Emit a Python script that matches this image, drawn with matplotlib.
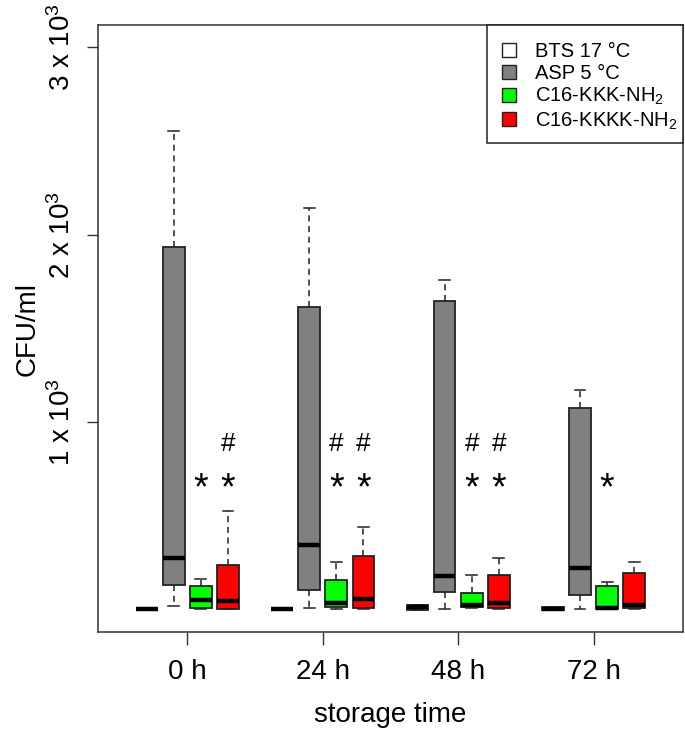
import matplotlib
matplotlib.use("Agg")
import matplotlib.pyplot as plt
from matplotlib.patches import Patch, Rectangle

plt.rcParams['font.family'] = ['Liberation Sans', 'DejaVu Sans']
plt.rcParams['mathtext.fontset'] = 'custom'
plt.rcParams['mathtext.rm'] = 'Liberation Sans'
plt.rcParams['mathtext.it'] = 'Liberation Sans:italic'
plt.rcParams['mathtext.bf'] = 'Liberation Sans:bold'

# ---------------- data ----------------
times = ["0 h", "24 h", "48 h", "72 h"]
series = ["BTS 17 °C", "ASP 5 °C", r"C16-KKK-NH$_2$", r"C16-KKKK-NH$_2$"]
colors = ["#FFFFFF", "#808080", "#00FF00", "#FF0000"]

bts_whislo = [0, 0, 0, 0]
bts_q1 = [1, 1, 0, 0]
bts_med = [2, 2, 12, 5]
bts_q3 = [3, 3, 22, 12]
bts_whishi = [3, 3, 22, 12]

asp_whislo = [20, 6, 3, 3]
asp_q1 = [132, 106, 92, 79]
asp_med = [273, 346, 180, 221]
asp_q3 = [1935, 1616, 1648, 1073]
asp_whishi = [2552, 2141, 1757, 1171]

kkk_whislo = [4, 3, 8, 3]
kkk_q1 = [6, 15, 13, 4]
kkk_med = [52, 35, 24, 6]
kkk_q3 = [124, 159, 88, 125]
kkk_whishi = [163, 255, 186, 147]

kkkk_whislo = [2, 3, 3, 3]
kkkk_q1 = [3, 8, 8, 6]
kkkk_med = [44, 56, 35, 22]
kkkk_q3 = [239, 284, 186, 193]
kkkk_whishi = [524, 438, 275, 252]

# significance marks: (time index, series index)
star_marks = [(0, 2), (0, 3), (1, 2), (1, 3), (2, 2), (2, 3), (3, 2)]
hash_marks = [(0, 3), (1, 2), (1, 3), (2, 2), (2, 3)]
star_y = 640
hash_y = 885

yticks = [1000, 2000, 3000]
ytick_labels = [r"1 x 10$^3$", r"2 x 10$^3$", r"3 x 10$^3$"]

all_series = [
    (bts_whislo, bts_q1, bts_med, bts_q3, bts_whishi),
    (asp_whislo, asp_q1, asp_med, asp_q3, asp_whishi),
    (kkk_whislo, kkk_q1, kkk_med, kkk_q3, kkk_whishi),
    (kkkk_whislo, kkkk_q1, kkkk_med, kkkk_q3, kkkk_whishi),
]

# ---------------- figure ----------------
W, H = 685, 731
fig = plt.figure(figsize=(W / 100, H / 100), dpi=100)
L, R, T, B = 98, 683, 25, 632
ax = fig.add_axes([L / W, 1 - B / H, (R - L) / W, (B - T) / H])

def pos(t, s):
    return t * 5 + s + 1

for s, (lo, q1, med, q3, hi) in enumerate(all_series):
    stats = []
    positions = []
    for t in range(len(times)):
        stats.append(dict(whislo=lo[t], q1=q1[t], med=med[t], q3=q3[t],
                          whishi=hi[t], fliers=[]))
        positions.append(pos(t, s))
    ax.bxp(stats, positions=positions, widths=0.8, capwidths=0.4,
           showfliers=False, patch_artist=True,
           boxprops=dict(facecolor=colors[s], edgecolor="#222222", linewidth=1.3),
           medianprops=dict(color="black", linewidth=3.2, solid_capstyle="butt"),
           whiskerprops=dict(color="#222222", linewidth=1.1, linestyle=(0, (4, 3))),
           capprops=dict(color="#222222", linewidth=1.1),
           manage_ticks=False)

for t, s in star_marks:
    ax.text(pos(t, s), star_y, "*", ha="center", va="center", fontsize=27)
for t, s in hash_marks:
    ax.text(pos(t, s), hash_y, "#", ha="center", va="center", fontsize=19)

ax.set_xlim(-0.8, 20.8)
ax.set_ylim(-120, 3120)

ax.set_xticks([t * 5 + 2.5 for t in range(len(times))])
ax.set_xticklabels(times, fontsize=20)
ax.set_yticks(yticks)
ax.set_yticklabels(ytick_labels, fontsize=20, rotation=90, va="center")
ax.tick_params(axis="x", direction="out", length=9.5, width=1, color="#333333", pad=10)
ax.tick_params(axis="y", direction="out", length=8, width=1, color="#333333", pad=8)

for sp in ax.spines.values():
    sp.set_color("#333333")
    sp.set_linewidth(1.1)

ax.set_xlabel("storage time", fontsize=20, labelpad=12)
ax.set_ylabel("CFU/ml", fontsize=20, labelpad=5)

# legend: frame drawn separately for exact padding
def axfrac(px, py):
    return (px - L) / (R - L), (B - py) / (B - T)

fx0, fy0 = axfrac(487, 143)
ax.add_patch(Rectangle((fx0, fy0), 1 - fx0, 1 - fy0, transform=ax.transAxes,
                       facecolor="white", edgecolor="#222222", linewidth=1.1,
                       zorder=5, clip_on=False))
handles = [Patch(facecolor=c, edgecolor="#222222", linewidth=1) for c in colors]
leg = ax.legend(handles, series, loc="upper left", fontsize=14.5,
                bbox_to_anchor=axfrac(502, 42), frameon=False,
                borderaxespad=0, borderpad=0,
                handlelength=0.68, handleheight=0.68, handletextpad=0.95,
                labelspacing=0.15)
leg.set_zorder(6)

fig.savefig("out.png", dpi=100)
